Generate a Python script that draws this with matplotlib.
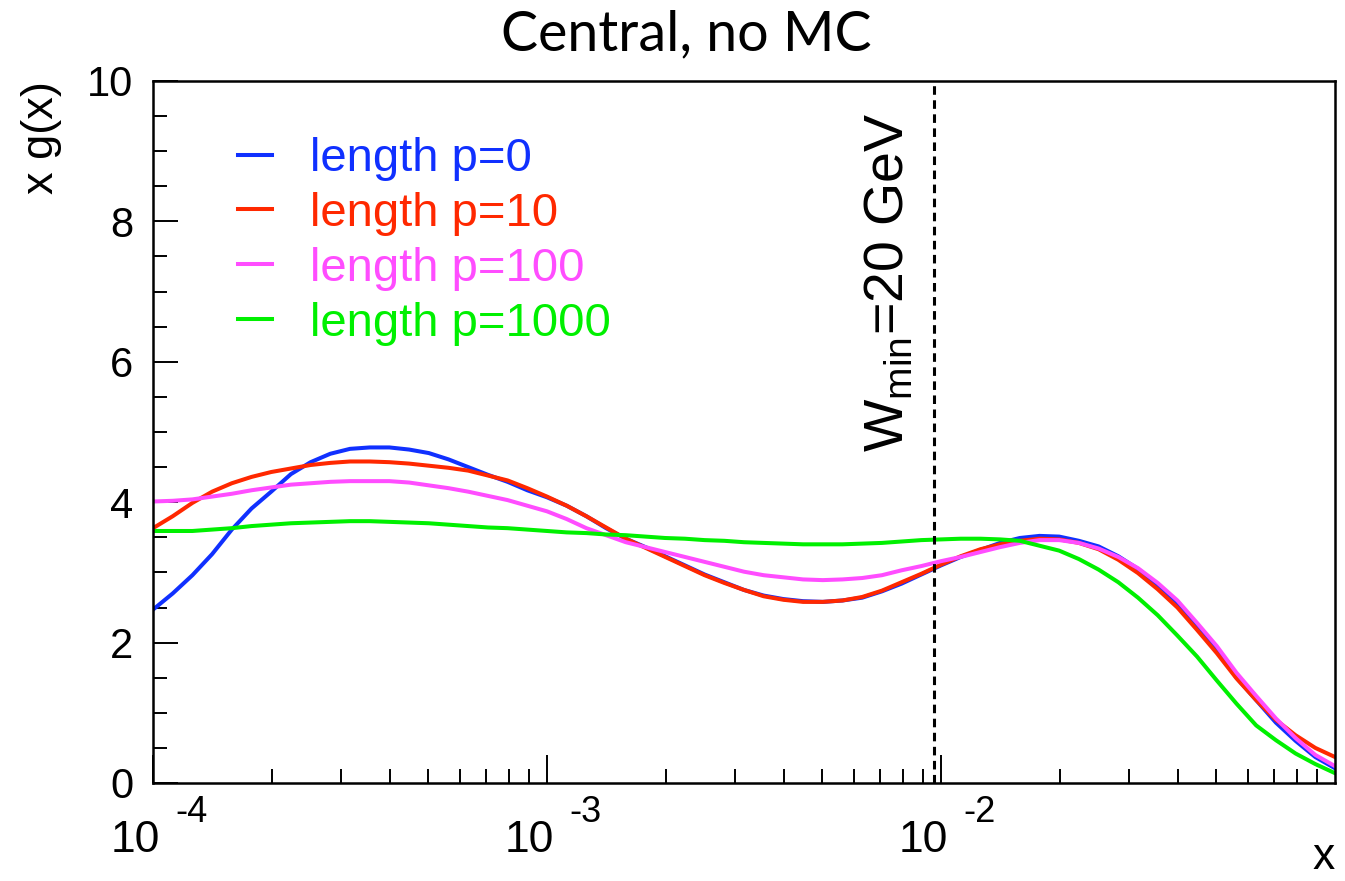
import numpy as np
import matplotlib
matplotlib.use("Agg")
import matplotlib.pyplot as plt
import matplotlib.transforms as mtransforms
from matplotlib.ticker import MultipleLocator, LogLocator, NullFormatter

# log10(x) grid the curves were read on
log_x = [-4.00, -3.95, -3.90, -3.85, -3.80, -3.75, -3.70, -3.65, -3.60, -3.55,
         -3.50, -3.45, -3.40, -3.35, -3.30, -3.25, -3.20, -3.15, -3.10, -3.05,
         -3.00, -2.95, -2.90, -2.85, -2.80, -2.75, -2.70, -2.65, -2.60, -2.55,
         -2.50, -2.45, -2.40, -2.35, -2.30, -2.25, -2.20, -2.15, -2.10, -2.05,
         -2.00, -1.95, -1.90, -1.85, -1.80, -1.75, -1.70, -1.65, -1.60, -1.55,
         -1.50, -1.45, -1.40, -1.35, -1.30, -1.25, -1.20, -1.15, -1.10, -1.05,
         -1.00]

xg_p0 = [2.47, 2.70, 2.96, 3.26, 3.61, 3.91, 4.15, 4.40, 4.57, 4.69,
         4.76, 4.78, 4.78, 4.75, 4.70, 4.61, 4.50, 4.39, 4.29, 4.17,
         4.07, 3.95, 3.80, 3.63, 3.48, 3.36, 3.23, 3.10, 2.97, 2.86,
         2.75, 2.67, 2.62, 2.59, 2.58, 2.60, 2.64, 2.73, 2.84, 2.97,
         3.10, 3.22, 3.32, 3.42, 3.49, 3.52, 3.51, 3.45, 3.37, 3.23,
         3.05, 2.82, 2.56, 2.22, 1.89, 1.50, 1.18, 0.86, 0.60, 0.37,
         0.21]
xg_p10 = [3.63, 3.80, 3.99, 4.15, 4.27, 4.36, 4.43, 4.48, 4.53, 4.56,
          4.58, 4.58, 4.57, 4.55, 4.52, 4.49, 4.45, 4.38, 4.31, 4.20,
          4.08, 3.95, 3.80, 3.64, 3.48, 3.35, 3.22, 3.09, 2.96, 2.85,
          2.75, 2.66, 2.61, 2.58, 2.58, 2.60, 2.65, 2.74, 2.86, 2.98,
          3.11, 3.23, 3.33, 3.40, 3.45, 3.48, 3.47, 3.42, 3.33, 3.18,
          2.99, 2.76, 2.50, 2.18, 1.85, 1.49, 1.18, 0.90, 0.68, 0.50,
          0.37]
xg_p100 = [4.01, 4.02, 4.04, 4.08, 4.12, 4.17, 4.21, 4.25, 4.27, 4.29,
           4.30, 4.30, 4.30, 4.28, 4.24, 4.20, 4.15, 4.09, 4.03, 3.95,
           3.87, 3.76, 3.63, 3.53, 3.43, 3.36, 3.29, 3.22, 3.15, 3.08,
           3.01, 2.96, 2.93, 2.90, 2.89, 2.90, 2.92, 2.96, 3.03, 3.09,
           3.16, 3.22, 3.29, 3.36, 3.42, 3.46, 3.46, 3.42, 3.34, 3.22,
           3.06, 2.85, 2.60, 2.28, 1.95, 1.57, 1.24, 0.92, 0.64, 0.40,
           0.24]
xg_p1000 = [3.59, 3.59, 3.59, 3.61, 3.63, 3.66, 3.68, 3.70, 3.71, 3.72,
            3.73, 3.73, 3.72, 3.71, 3.70, 3.68, 3.66, 3.64, 3.63, 3.61,
            3.59, 3.57, 3.56, 3.54, 3.53, 3.51, 3.49, 3.48, 3.46, 3.45,
            3.43, 3.42, 3.41, 3.40, 3.40, 3.40, 3.41, 3.42, 3.44, 3.46,
            3.47, 3.48, 3.48, 3.47, 3.45, 3.38, 3.31, 3.19, 3.04, 2.86,
            2.64, 2.39, 2.10, 1.80, 1.46, 1.13, 0.82, 0.61, 0.42, 0.27,
            0.14]

labels = ["length p=0", "length p=10", "length p=100", "length p=1000"]
colors = ["#1030ff", "#ff2800", "#ff4dff", "#00f000"]

w_min_x = 0.0096
decades = [1e-4, 1e-3, 1e-2]
decade_exp = ["-4", "-3", "-2"]

plt.rcParams['font.family'] = ['Liberation Sans', 'DejaVu Sans']

fig = plt.figure(figsize=(13.45, 8.81), dpi=100)
ax = fig.add_axes([153 / 1345, 1 - 783 / 881, 1182 / 1345, 702 / 881])

x = 10.0 ** np.array(log_x)
for y, lab, c in zip([xg_p0, xg_p10, xg_p100, xg_p1000], labels, colors):
    ax.plot(x, y, color=c, lw=2.9, label=lab, solid_joinstyle="round")

ax.axvline(w_min_x, color="black", lw=2.2, ls=(0, (2.8, 1.8)))
ax.text(0.0074, 4.71, r"W$_{\mathregular{min}}$=20 GeV", rotation=90,
        ha="center", va="bottom", fontsize=40)

ax.set_xscale("log")
ax.set_xlim(1e-4, 1e-1)
ax.set_ylim(0, 10)

for s in ax.spines.values():
    s.set_linewidth(1.8)

ax.yaxis.set_major_locator(MultipleLocator(2))
ax.yaxis.set_minor_locator(MultipleLocator(0.5))
ax.xaxis.set_major_locator(LogLocator(base=10))
ax.xaxis.set_minor_locator(LogLocator(base=10, subs=np.arange(2, 10)))
ax.xaxis.set_minor_formatter(NullFormatter())
ax.set_xticks(decades)
ax.set_xticklabels([])
ax.tick_params(axis="both", which="both", direction="in", top=False, right=False, width=1.4)
ax.tick_params(axis="x", which="major", length=20)
ax.tick_params(axis="x", which="minor", length=10)
ax.tick_params(axis="y", which="major", length=18, labelsize=30, pad=14)
ax.tick_params(axis="y", which="minor", length=10)

# ROOT style "10" with a raised exponent under each decade tick
trans = mtransforms.blended_transform_factory(ax.transData, ax.transAxes)
for d, e in zip(decades, decade_exp):
    ax.annotate("10", (d, 0), xycoords=trans, xytext=(7, -58), textcoords="offset pixels",
                ha="right", va="center", fontsize=32)
    ax.annotate(e, (d, 0), xycoords=trans, xytext=(22, -30), textcoords="offset pixels",
                ha="left", va="center", fontsize=26)

ax.set_xlabel("x", fontsize=32, loc="right")
ax.xaxis.set_label_coords(1.0, -0.077)
ax.set_ylabel("x g(x)", fontsize=32.5, loc="top")
ax.yaxis.set_label_coords(-0.077, 1.0)

ax.set_title("Central, no MC", fontsize=40, family="Lato", pad=22, x=0.451)

leg = ax.legend(loc="upper left", bbox_to_anchor=(0.072, 0.92), frameon=False, fontsize=34,
                handlelength=0.72, handletextpad=0.8, labelspacing=0.23, borderpad=0,
                borderaxespad=0, labelcolor="linecolor")

fig.savefig("out.png", dpi=100)
